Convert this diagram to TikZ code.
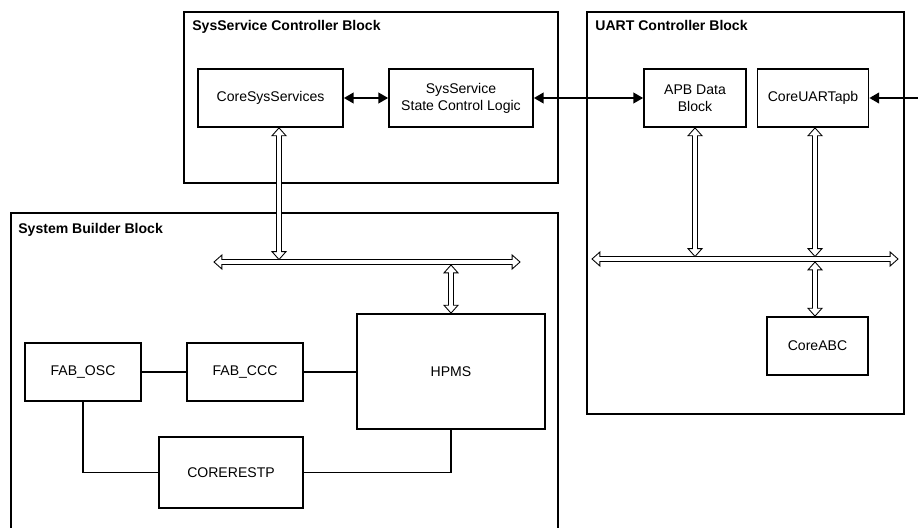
\documentclass[tikz,border=0pt]{standalone}
\usepackage{fontspec}
\setmainfont{Liberation Sans}
\usetikzlibrary{arrows.meta}
\usetikzlibrary{calc}
\usetikzlibrary{positioning}

\begin{document}
\begin{tikzpicture}[x=0.02cm,y=-0.02cm,font=\fontsize{8}{9.6}\selectfont,
  core node/.style={draw,line width=1pt,align=center,inner sep=1pt,minimum height=1.16cm},
  frame node/.style={draw,line width=1.1pt},
  title node/.style={anchor=base west,inner sep=0pt,font=\fontsize{8}{9.6}\selectfont\bfseries},
  ctrl/.style={line width=1.1pt,{Triangle[length=5.5pt,width=6pt]}-{Triangle[length=5.5pt,width=6pt]}},
  bus/.style={draw,fill=white,line width=0.5pt,line join=miter,to path={
    -- ($(\tikztostart)!4.5pt!(\tikztotarget)!4pt!90:(\tikztotarget)$)
    -- ($(\tikztostart)!4.5pt!(\tikztotarget)!1.4pt!90:(\tikztotarget)$)
    -- ($(\tikztotarget)!4.5pt!(\tikztostart)!1.4pt!-90:(\tikztostart)$)
    -- ($(\tikztotarget)!4.5pt!(\tikztostart)!4pt!-90:(\tikztostart)$)
    -- (\tikztotarget)
    -- ($(\tikztotarget)!4.5pt!(\tikztostart)!4pt!90:(\tikztostart)$)
    -- ($(\tikztotarget)!4.5pt!(\tikztostart)!1.4pt!90:(\tikztostart)$)
    -- ($(\tikztostart)!4.5pt!(\tikztotarget)!1.4pt!-90:(\tikztotarget)$)
    -- ($(\tikztostart)!4.5pt!(\tikztotarget)!4pt!-90:(\tikztotarget)$)
    -- cycle}},
  wire/.style={line width=0.9pt}]

\useasboundingbox (0,0) rectangle (918,527);

% the three blocks
\draw[frame node] (184,12) rectangle (558,183);
\draw[frame node] (587,12) rectangle (904,414);
\draw[frame node] (11,213) rectangle (558,545);
\node[title node] (sstitle) at (192,31) {SysService Controller Block};
\node[title node] (uarttitle) at (595,31) {UART Controller Block};
\node[title node] (sbtitle) at (18,233) {System Builder Block};

% cores
\node[core node,minimum width=2.9cm] (css) at (270.5,98) {CoreSysServices};
\node[core node,minimum width=2.88cm] (sscl) at (461,98) {SysService\\State Control Logic};
\node[core node,minimum width=2.04cm] (apb) at (695,98) {APB Data\\Block};
\node[core node,minimum width=2.22cm] (uartapb) at (813,98) {CoreUARTapb};
\node[core node,minimum width=2.02cm] (coreabc) at (817.5,346) {CoreABC};
\node[core node,minimum width=2.32cm] (fabosc) at (83,372) {FAB\_OSC};
\node[core node,minimum width=2.32cm] (fabccc) at (245,372) {FAB\_CCC};
\node[core node,minimum width=3.76cm,minimum height=2.3cm] (hpms) at (451,371.5) {HPMS};
\node[core node,minimum width=2.88cm,minimum height=1.42cm] (corerestp) at (231,472.5) {CORERESTP};

\coordinate (uartin) at (918,98);
\coordinate (lbusw) at (214,262);
\coordinate (lbuse) at (520,262);
\coordinate (rbusw) at (592,259);
\coordinate (rbuse) at (898,259);
\coordinate (csstap) at ([xshift=0.17cm]css.south);
\coordinate (uarttap) at ([xshift=0.04cm]uartapb.south);

% control lines
\draw[ctrl] (css) -- (sscl);
\draw[ctrl] (sscl) -- (apb);
\draw[ctrl,{Triangle[length=5.5pt,width=6pt]}-] (uartapb) -- (uartin);

% buses
\path[bus] (lbusw) to (lbuse);
\path[bus] (rbusw) to (rbuse);
\path[bus] (csstap) to ([yshift=0.05cm]csstap |- lbusw);
\path[bus] ([yshift=-0.06cm]hpms.north |- lbusw) to (hpms.north);
\path[bus] (apb.south) to ([yshift=0.05cm]apb.south |- rbusw);
\path[bus] (uarttap) to ([yshift=0.05cm]uarttap |- rbusw);
\path[bus] ([yshift=-0.06cm]uarttap |- rbusw) to (coreabc.north -| uarttap);

% system builder wiring
\draw[wire] (fabosc) -- (fabccc);
\draw[wire] (fabccc.east) -- (fabccc.east -| hpms.west);
\draw[wire] (fabosc.south) |- (corerestp.west);
\draw[wire] (hpms.south) |- (corerestp.east);
\end{tikzpicture}
\end{document}
